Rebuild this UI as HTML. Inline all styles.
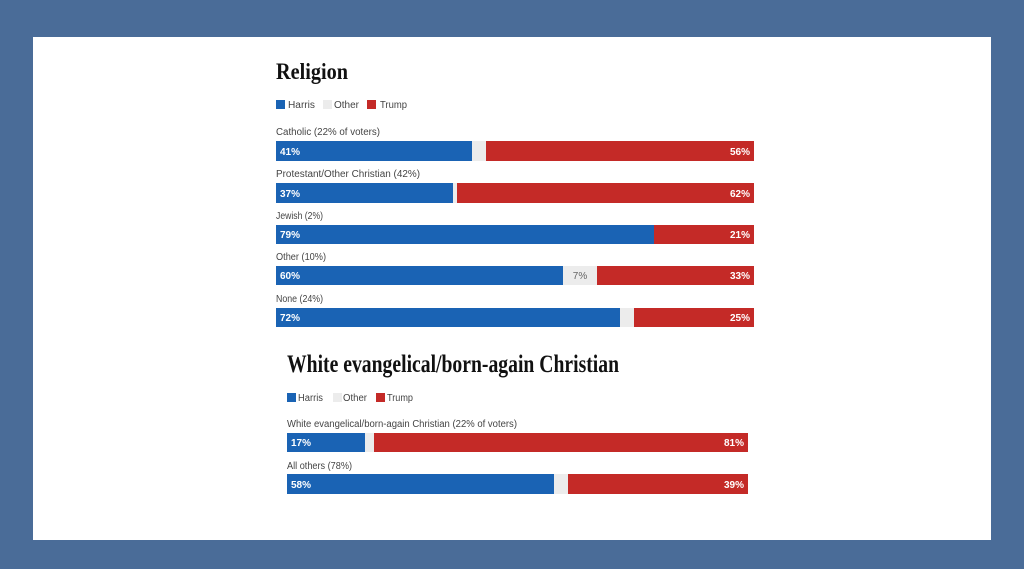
<!DOCTYPE html>
<html><head><meta charset="utf-8"><style>
html,body{margin:0;padding:0;background:#4a6c98;}
svg{display:block;}
</style></head><body>
<svg width="1024" height="569" viewBox="0 0 1024 569" xmlns="http://www.w3.org/2000/svg">
<rect x="0" y="0" width="1024" height="569" fill="#4a6c98"/>
<rect x="33" y="37" width="958" height="503" fill="#ffffff"/>

<!-- Religion -->
<text x="276" y="79" font-family="Liberation Serif, serif" font-weight="bold" font-size="23" fill="#111" textLength="72" lengthAdjust="spacingAndGlyphs">Religion</text>

<g font-family="Liberation Sans, sans-serif" font-size="10" fill="#444">
<rect x="276" y="100" width="9" height="9" fill="#1a63b4"/>
<text x="288" y="108" textLength="27" lengthAdjust="spacingAndGlyphs">Harris</text>
<rect x="323" y="100" width="9" height="9" fill="#ececec"/>
<text x="334" y="108" textLength="25" lengthAdjust="spacingAndGlyphs">Other</text>
<rect x="367" y="100" width="9" height="9" fill="#c42a27"/>
<text x="380" y="108" textLength="27" lengthAdjust="spacingAndGlyphs">Trump</text>

<text x="276" y="135" textLength="104" lengthAdjust="spacingAndGlyphs">Catholic (22% of voters)</text>
<text x="276" y="177" textLength="144" lengthAdjust="spacingAndGlyphs">Protestant/Other Christian (42%)</text>
<text x="276" y="219" textLength="47" lengthAdjust="spacingAndGlyphs">Jewish (2%)</text>
<text x="276" y="260" textLength="50" lengthAdjust="spacingAndGlyphs">Other (10%)</text>
<text x="276" y="302" textLength="47" lengthAdjust="spacingAndGlyphs">None (24%)</text>
</g>

<!-- Catholic -->
<rect x="276" y="141" width="196" height="20" fill="#1a63b4"/>
<rect x="472" y="141" width="14" height="20" fill="#ececec"/>
<rect x="486" y="141" width="268" height="20" fill="#c42a27"/>
<!-- Protestant -->
<rect x="276" y="183" width="177" height="20" fill="#1a63b4"/>
<rect x="453" y="183" width="4" height="20" fill="#ececec"/>
<rect x="457" y="183" width="297" height="20" fill="#c42a27"/>
<!-- Jewish -->
<rect x="276" y="225" width="378" height="19" fill="#1a63b4"/>
<rect x="654" y="225" width="100" height="19" fill="#c42a27"/>
<!-- Other -->
<rect x="276" y="266" width="287" height="19" fill="#1a63b4"/>
<rect x="563" y="266" width="34" height="19" fill="#ececec"/>
<rect x="597" y="266" width="157" height="19" fill="#c42a27"/>
<!-- None -->
<rect x="276" y="308" width="344" height="19" fill="#1a63b4"/>
<rect x="620" y="308" width="14" height="19" fill="#ececec"/>
<rect x="634" y="308" width="120" height="19" fill="#c42a27"/>

<g font-family="Liberation Sans, sans-serif" font-size="10" font-weight="bold" fill="#ffffff">
<text x="280" y="155">41%</text>
<text x="750" y="155" text-anchor="end">56%</text>
<text x="280" y="197">37%</text>
<text x="750" y="197" text-anchor="end">62%</text>
<text x="280" y="238">79%</text>
<text x="750" y="238" text-anchor="end">21%</text>
<text x="280" y="279">60%</text>
<text x="750" y="279" text-anchor="end">33%</text>
<text x="280" y="321">72%</text>
<text x="750" y="321" text-anchor="end">25%</text>
</g>
<text x="580" y="279" text-anchor="middle" font-family="Liberation Sans, sans-serif" font-size="10" fill="#666">7%</text>

<!-- White evangelical -->
<text x="287" y="372" font-family="Liberation Serif, serif" font-weight="bold" font-size="25" fill="#111" textLength="332" lengthAdjust="spacingAndGlyphs">White evangelical/born-again Christian</text>

<g font-family="Liberation Sans, sans-serif" font-size="10" fill="#444">
<rect x="287" y="393" width="9" height="9" fill="#1a63b4"/>
<text x="298" y="401" textLength="25" lengthAdjust="spacingAndGlyphs">Harris</text>
<rect x="333" y="393" width="9" height="9" fill="#ececec"/>
<text x="343" y="401" textLength="24" lengthAdjust="spacingAndGlyphs">Other</text>
<rect x="376" y="393" width="9" height="9" fill="#c42a27"/>
<text x="387" y="401" textLength="26" lengthAdjust="spacingAndGlyphs">Trump</text>

<text x="287" y="427" textLength="230" lengthAdjust="spacingAndGlyphs">White evangelical/born-again Christian (22% of voters)</text>
<text x="287" y="469" textLength="65" lengthAdjust="spacingAndGlyphs">All others (78%)</text>
</g>

<rect x="287" y="433" width="78" height="19" fill="#1a63b4"/>
<rect x="365" y="433" width="9" height="19" fill="#ececec"/>
<rect x="374" y="433" width="374" height="19" fill="#c42a27"/>

<rect x="287" y="474" width="267" height="20" fill="#1a63b4"/>
<rect x="554" y="474" width="14" height="20" fill="#ececec"/>
<rect x="568" y="474" width="180" height="20" fill="#c42a27"/>

<g font-family="Liberation Sans, sans-serif" font-size="10" font-weight="bold" fill="#ffffff">
<text x="291" y="446">17%</text>
<text x="744" y="446" text-anchor="end">81%</text>
<text x="291" y="488">58%</text>
<text x="744" y="488" text-anchor="end">39%</text>
</g>
</svg>
</body></html>
